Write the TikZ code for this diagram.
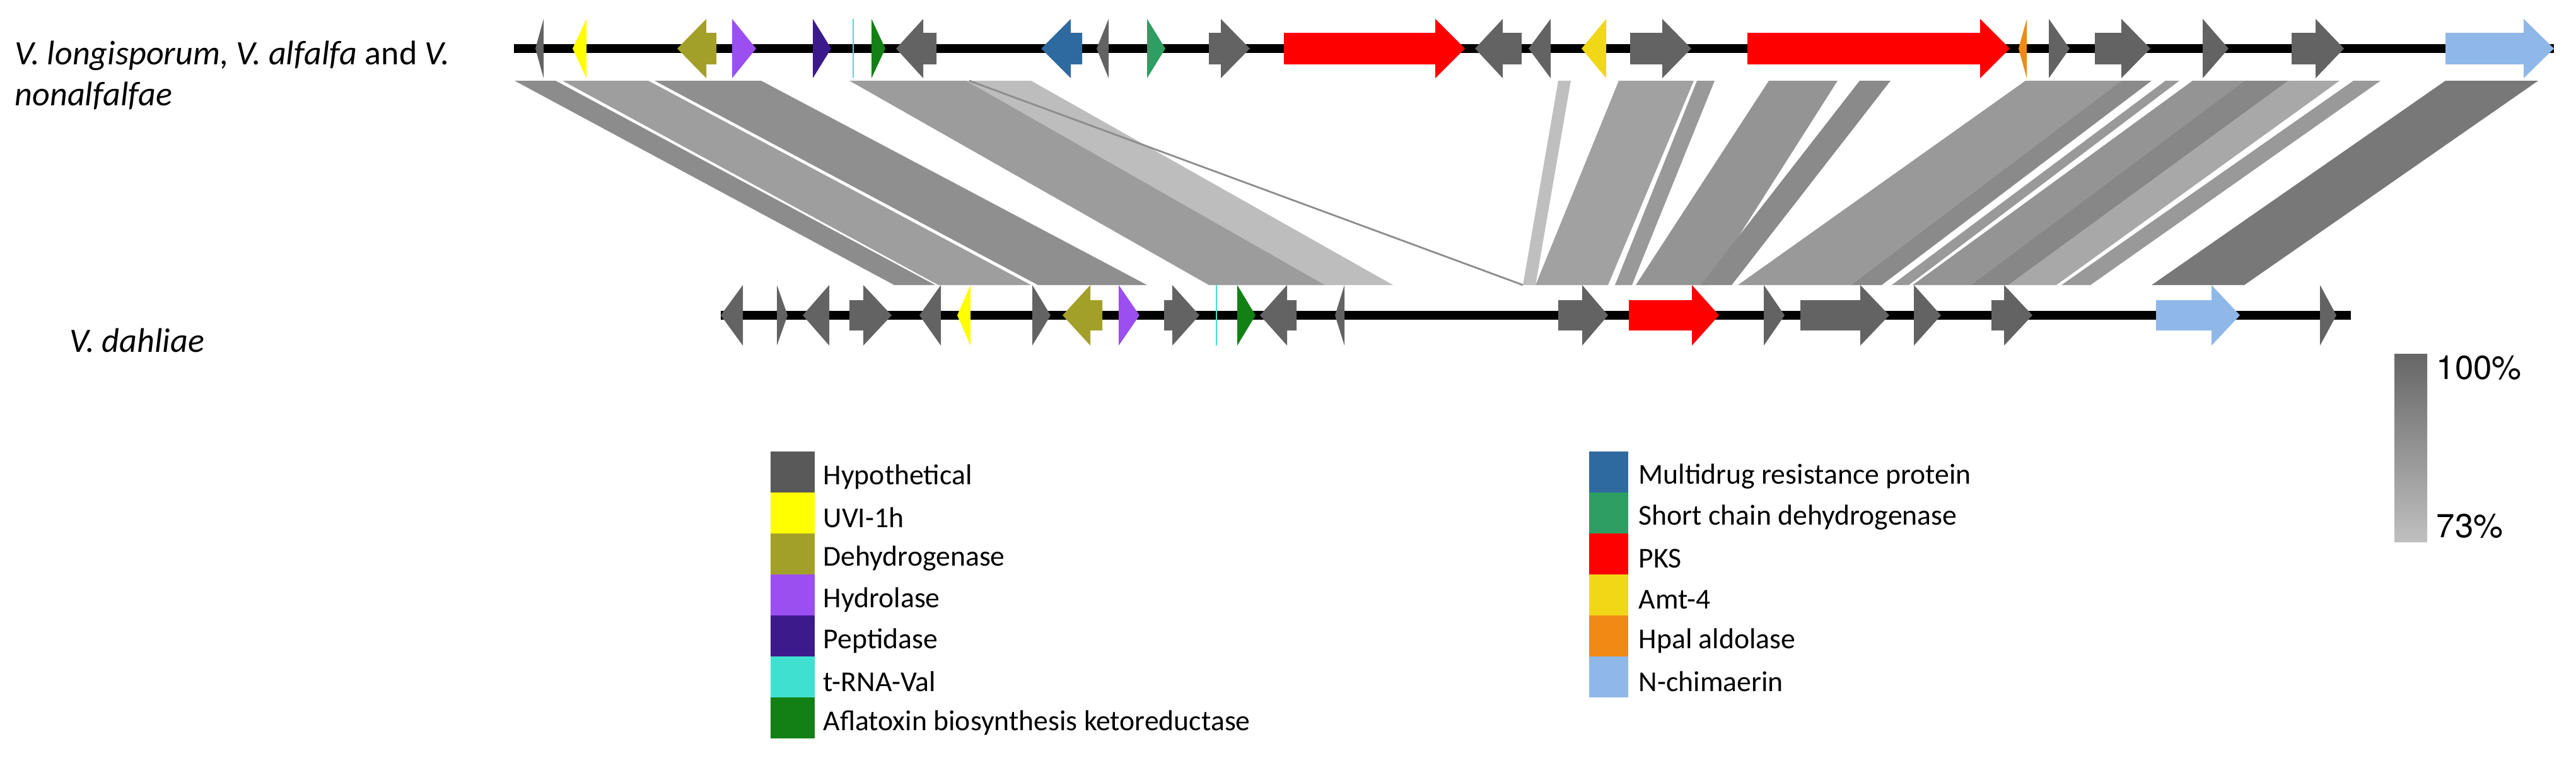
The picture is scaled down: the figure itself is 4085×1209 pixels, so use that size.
\documentclass[tikz,border=0pt]{standalone}
\usepackage{fontspec}
\setmainfont{Carlito}
\newfontfamily\helv{TeX Gyre Heros}
\begin{document}
\begin{tikzpicture}[x=0.01cm,y=-0.01cm]
\definecolor{hyp}{HTML}{636363}
\definecolor{uvi}{HTML}{FFFF00}
\definecolor{dehy}{HTML}{A3A02A}
\definecolor{hydro}{HTML}{9B4FF0}
\definecolor{pept}{HTML}{3D1A8C}
\definecolor{trna}{HTML}{40E0D0}
\definecolor{afla}{HTML}{138015}
\definecolor{mdr}{HTML}{2E6AA0}
\definecolor{scd}{HTML}{2E9E62}
\definecolor{pks}{HTML}{FF0000}
\definecolor{amt}{HTML}{F0D817}
\definecolor{hpal}{HTML}{F08A14}
\definecolor{nchi}{HTML}{8FB8E8}
\definecolor{legh}{HTML}{595959}
\tikzset{lbl/.style={font=\fontsize{15.4}{18}\selectfont\itshape,anchor=base west,inner sep=0pt},
 leg/.style={font=\fontsize{13}{15}\selectfont,anchor=west,inner sep=0pt},
 pct/.style={font=\helv\fontsize{15}{18}\selectfont,anchor=base west,inner sep=0pt},
 track/.style={line width=4pt,black}}
\useasboundingbox (0,0) rectangle (4085,1209);
% gene: color, body end, head base, tip, y, body half height, head half height
\newcommand\gene[7]{\fill[#1] (#2,#5-#6)--(#3,#5-#6)--(#3,#5-#7)--(#4,#5)--(#3,#5+#7)--(#3,#5+#6)--(#2,#5+#6)--cycle;}
\newcommand\tg[4]{\gene{#1}{#2}{#3}{#4}{77}{25}{47}}
\newcommand\bg[4]{\gene{#1}{#2}{#3}{#4}{500}{24}{48}}
\newcommand\band[5]{\fill[#1] (#2,128)--(#3,128)--(#5,452)--(#4,452)--cycle;}
% bands
\band{black!45}{816}{881}{1418}{1483}
\band{black!38}{892}{1028}{1488}{1635}
\band{black!44}{1038}{1207}{1646}{1819}
\band{black!39}{1347}{1537}{1917}{2117}
\band{black!26}{1532}{1635}{2101}{2209}
\draw[black!45,line width=0.8pt] (1537,128)--(2415,452);
\band{black!25}{2471}{2491}{2415}{2435}
\band{black!37}{2567}{2686}{2435}{2550}
\band{black!40}{2691}{2719}{2561}{2588}
\band{black!42}{2805}{2914}{2594}{2708}
\band{black!46}{2949}{2998}{2697}{2746}
\band{black!40}{3212}{3364}{2756}{2935}
\band{black!46}{3364}{3412}{2935}{2984}
\band{black!40}{3434}{3456}{3000}{3027}
\band{black!42}{3477}{3559}{3033}{3125}
\band{black!47}{3559}{3629}{3125}{3185}
\band{black!34}{3629}{3710}{3185}{3261}
\band{black!40}{3732}{3775}{3269}{3315}
\band{black!53}{3878}{4025}{3412}{3559}
% tracks
\draw[track] (815,77)--(4050,77);
\draw[track] (1143,500)--(3728,500);
% top genes
\tg{hyp}{862}{862}{849}
\tg{uvi}{930}{930}{908}
\tg{dehy}{1136}{1120}{1074}
\tg{hydro}{1161}{1161}{1199}
\tg{pept}{1289}{1289}{1318}
\draw[trna,line width=0.8pt] (1353,30)--(1353,124);
\tg{afla}{1382}{1382}{1404}
\tg{hyp}{1485}{1464}{1421}
\tg{mdr}{1716}{1698}{1651}
\tg{hyp}{1758}{1758}{1739}
\tg{scd}{1819}{1819}{1848}
\tg{hyp}{1917}{1936}{1982}
\tg{pks}{2036}{2276}{2323}
\tg{hyp}{2413}{2383}{2339}
\tg{hyp}{2459}{2459}{2424}
\tg{amt}{2547}{2547}{2508}
\tg{hyp}{2585}{2636}{2682}
\tg{pks}{2771}{3140}{3187}
\tg{hpal}{3214}{3214}{3201}
\tg{hyp}{3249}{3249}{3282}
\tg{hyp}{3322}{3364}{3410}
\tg{hyp}{3493}{3493}{3534}
\tg{hyp}{3634}{3672}{3717}
\tg{nchi}{3878}{4002}{4050}
% bottom genes
\bg{hyp}{1178}{1178}{1143}
\bg{hyp}{1232}{1232}{1249}
\bg{hyp}{1315}{1315}{1273}
\bg{hyp}{1347}{1369}{1414}
\bg{hyp}{1492}{1492}{1458}
\bg{uvi}{1539}{1539}{1518}
\bg{hyp}{1637}{1637}{1666}
\bg{dehy}{1748}{1729}{1685}
\bg{hydro}{1774}{1774}{1807}
\bg{hyp}{1846}{1859}{1902}
\draw[trna,line width=0.8pt] (1929,452)--(1929,548);
\bg{afla}{1962}{1962}{1991}
\bg{hyp}{2056}{2041}{1998}
\bg{hyp}{2132}{2132}{2117}
\bg{hyp}{2471}{2509}{2550}
\bg{pks}{2583}{2683}{2726}
\bg{hyp}{2797}{2797}{2830}
\bg{hyp}{2855}{2950}{2996}
\bg{hyp}{3035}{3035}{3078}
\bg{hyp}{3158}{3178}{3223}
\bg{nchi}{3419}{3507}{3552}
\bg{hyp}{3679}{3679}{3705}
% labels
\node[lbl] (t1) at (23,102) {V. longisporum, V. alfalfa {\upshape and} V.};
\node[lbl] (t2) at (23,167) {nonalfalfae};
\node[lbl] (t3) at (110,558) {V. dahliae};
% legend
\foreach \c/\t [count=\i from 0] in {legh/Hypothetical,uvi/UVI-1h,dehy/Dehydrogenase,hydro/Hydrolase,pept/Peptidase,trna/t-RNA-Val,afla/Aflatoxin biosynthesis ketoreductase}{
  \fill[\c] (1222,716+65*\i) rectangle (1292,781+65*\i);
  \node[leg] (l\i) at (1305,756+65*\i) {\t};
}
\foreach \c/\t [count=\i from 0] in {mdr/Multidrug resistance protein,scd/Short chain dehydrogenase,pks/PKS,amt/Amt-4,hpal/Hpal aldolase,nchi/N-chimaerin}{
  \fill[\c] (2520,716+65*\i) rectangle (2582,781+65*\i);
  \node[leg] (r\i) at (2598,756+65*\i) {\t};
}
% scale
\shade[top color=black!60,bottom color=black!25] (3797,561) rectangle (3849,859);
\node[pct] (p1) at (3863,601) {100\%};
\node[pct] (p2) at (3863,852) {73\%};
\end{tikzpicture}
\end{document}
